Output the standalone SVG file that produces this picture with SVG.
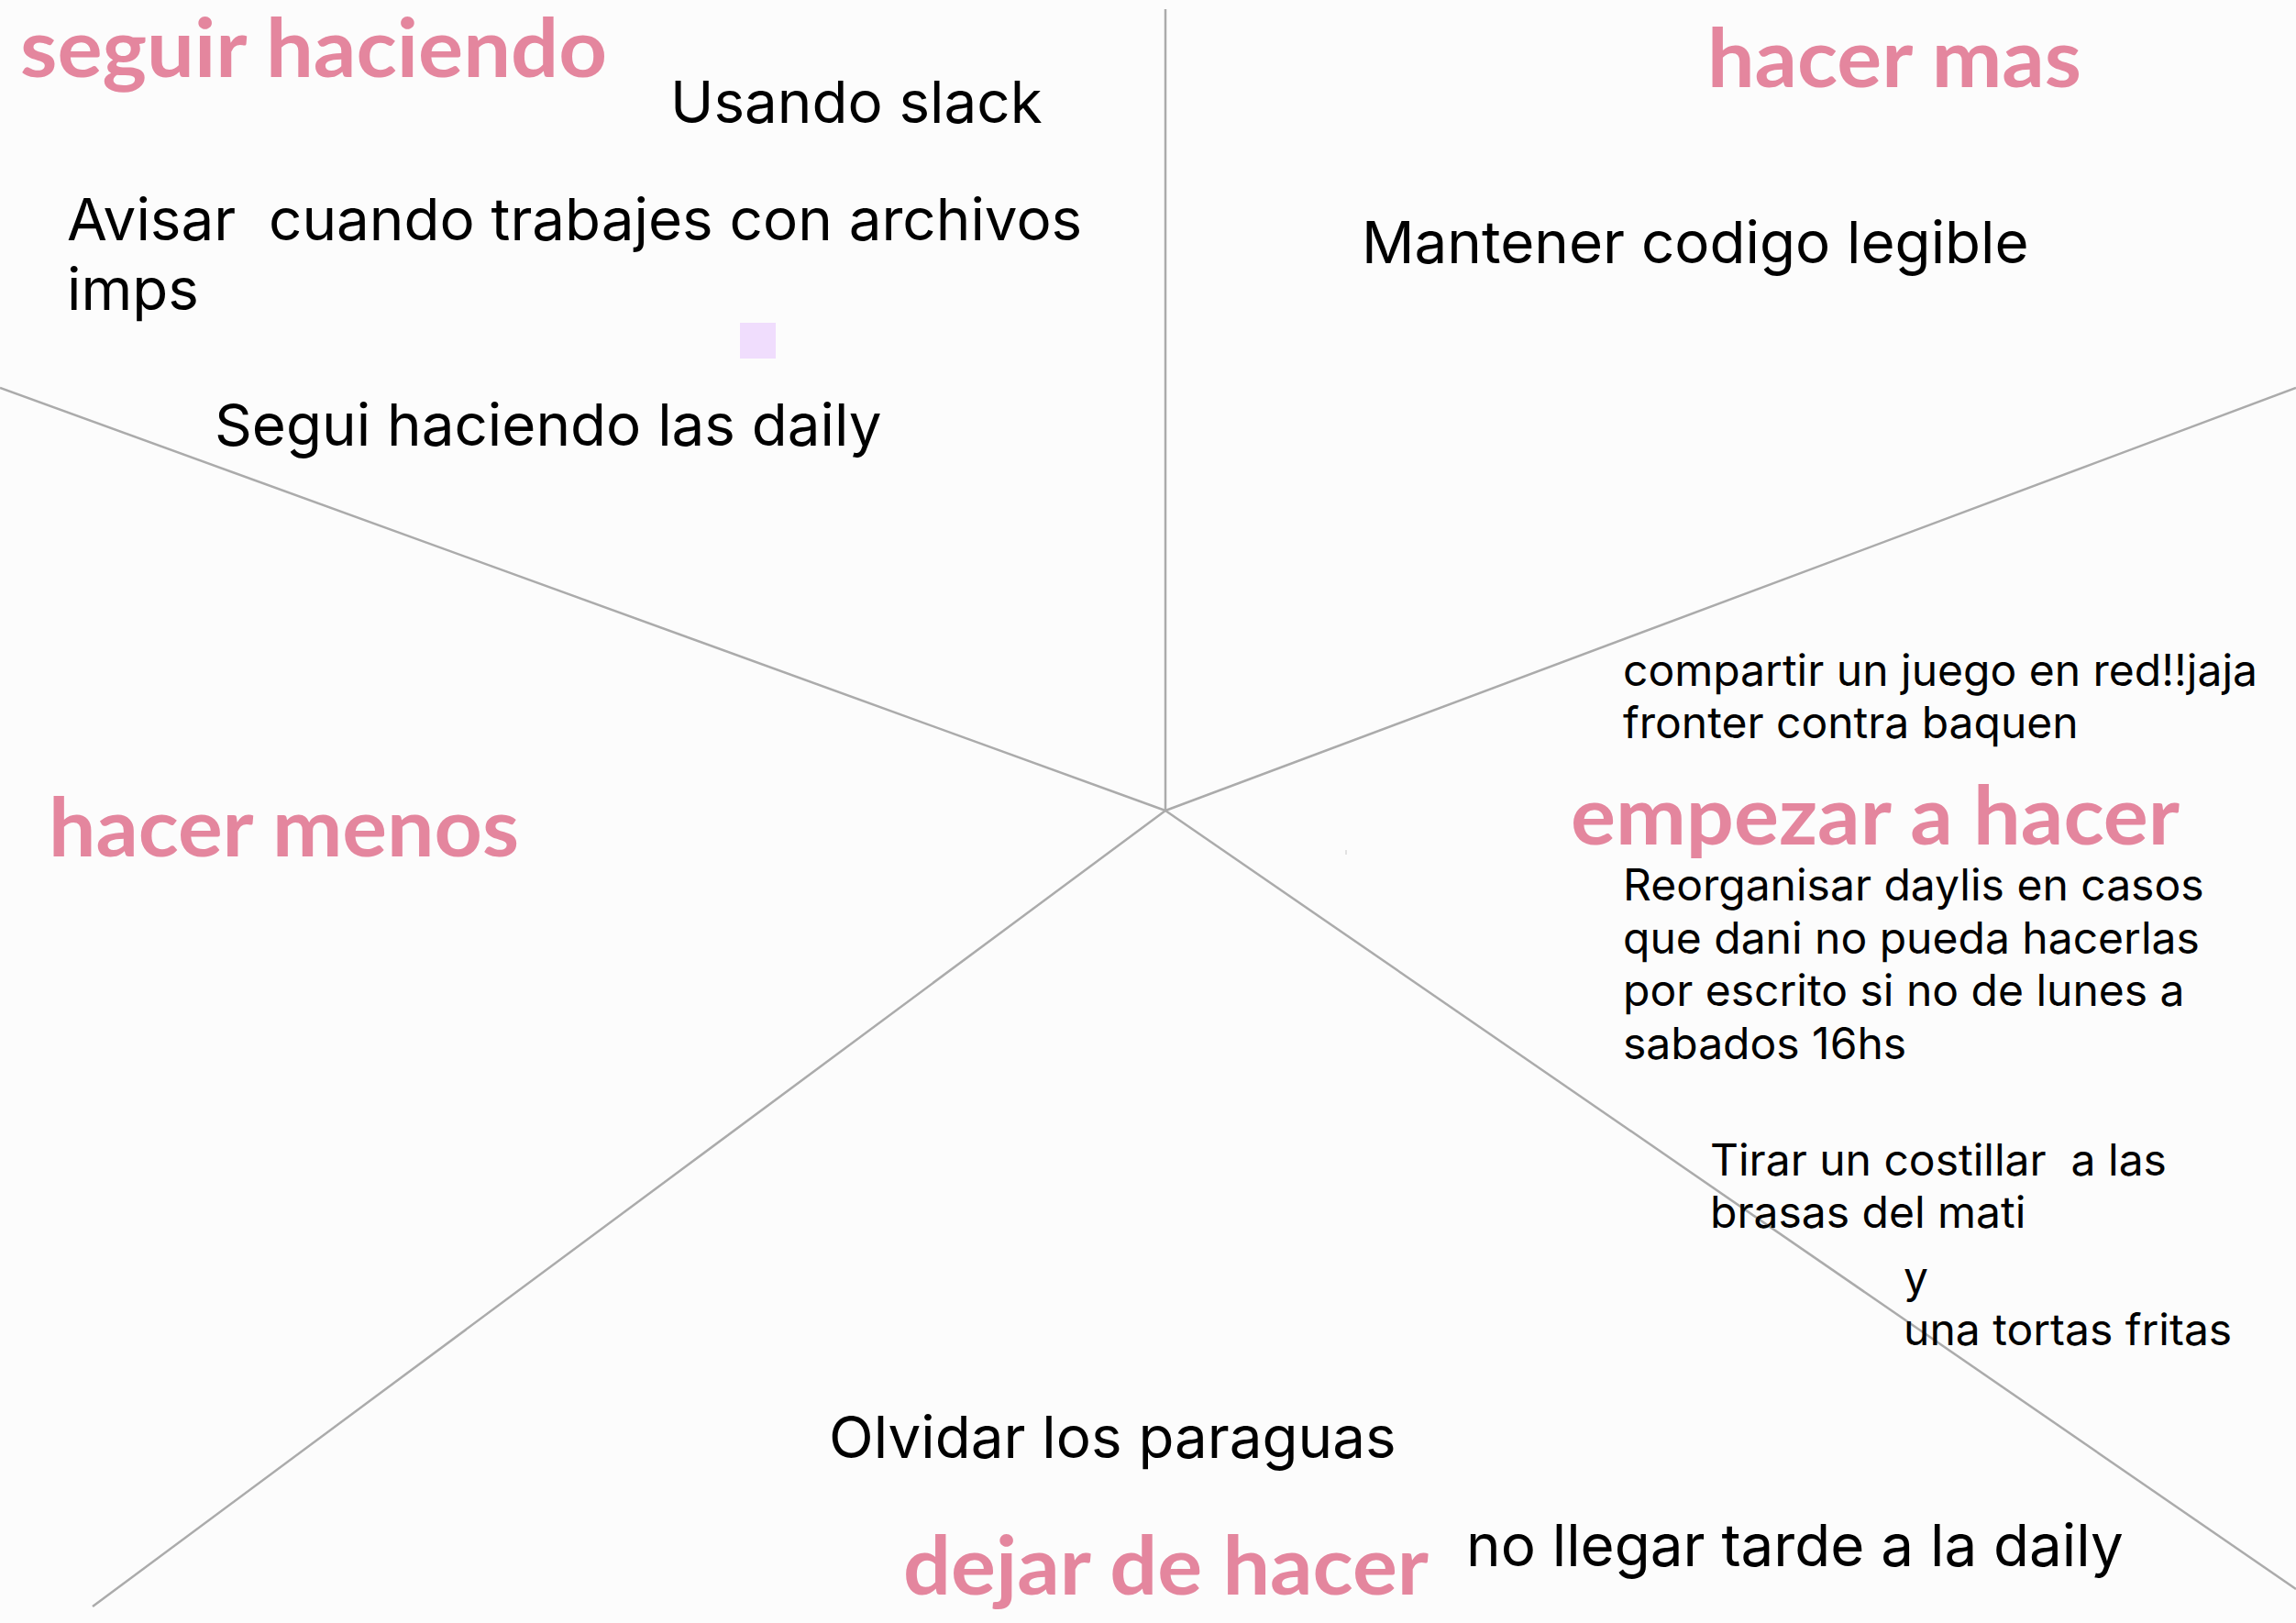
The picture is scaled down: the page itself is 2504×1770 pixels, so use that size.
<svg xmlns="http://www.w3.org/2000/svg" width="2504" height="1770" viewBox="0 0 2504 1770">
  <style>
    .head { font-family: Lato, "Open Sans", "Liberation Sans", sans-serif; font-weight: 700; font-size: 88px; fill: #E4869E; }
    .note { font-family: Inter, "Liberation Sans", sans-serif; font-size: 63.7px; fill: #000000; white-space: pre; }
    .small { font-family: Inter, "Liberation Sans", sans-serif; font-size: 48px; fill: #000000; white-space: pre; }
    .div { stroke: #ABABAB; stroke-width: 2.5; fill: none; }
  </style>
  <rect x="0" y="0" width="2504" height="1770" fill="#FCFCFC"/>

  <g id="connectors">
    <line class="div" x1="1271" y1="10" x2="1271" y2="884"/>
    <line class="div" x1="0" y1="423" x2="1271" y2="884"/>
    <line class="div" x1="2504" y1="423" x2="1271" y2="884"/>
    <line class="div" x1="1271" y1="884" x2="101" y2="1752"/>
    <line class="div" x1="1271" y1="884" x2="2504" y2="1733"/>
  </g>

  <g id="heading-seguir-haciendo">
    <text class="head" x="22" y="84" textLength="640" lengthAdjust="spacingAndGlyphs">seguir haciendo</text>
  </g>
  <g id="heading-hacer-mas">
    <text class="head" x="1862" y="95" textLength="408" lengthAdjust="spacingAndGlyphs">hacer mas</text>
  </g>
  <g id="heading-hacer-menos">
    <text class="head" x="53" y="934" textLength="513" lengthAdjust="spacingAndGlyphs">hacer menos</text>
  </g>
  <g id="heading-empezar-a-hacer">
    <text class="head" x="1713" y="921" textLength="664" lengthAdjust="spacingAndGlyphs">empezar a hacer</text>
  </g>
  <g id="heading-dejar-de-hacer">
    <text class="head" x="985" y="1739" textLength="573" lengthAdjust="spacingAndGlyphs">dejar de hacer</text>
  </g>

  <g id="note-usando-slack">
    <text class="note" x="731" y="134">Usando slack</text>
  </g>
  <g id="note-avisar">
    <text class="note" x="73" y="262" xml:space="preserve">Avisar  cuando trabajes con archivos</text>
    <text class="note" x="73" y="338">imps</text>
  </g>
  <g id="marker-square">
    <rect x="807" y="352" width="39" height="39" fill="#F0DDFD"/>
  </g>
  <g id="note-segui-daily">
    <text class="note" x="234" y="486">Segui haciendo las daily</text>
  </g>
  <g id="note-mantener">
    <text class="note" x="1485" y="287">Mantener codigo legible</text>
  </g>
  <g id="note-compartir">
    <text class="small" x="1770" y="748">compartir un juego en red!!jaja</text>
    <text class="small" x="1770" y="805">fronter contra baquen</text>
  </g>
  <g id="speck">
    <rect x="1467" y="927" width="2" height="5" fill="#E2E2E2"/>
  </g>
  <g id="note-reorganisar">
    <text class="small" x="1770" y="982">Reorganisar daylis en casos</text>
    <text class="small" x="1770" y="1040">que dani no pueda hacerlas</text>
    <text class="small" x="1770" y="1097">por escrito si no de lunes a</text>
    <text class="small" x="1770" y="1155">sabados 16hs</text>
  </g>
  <g id="note-costillar">
    <text class="small" x="1865" y="1282" xml:space="preserve">Tirar un costillar  a las</text>
    <text class="small" x="1865" y="1339">brasas del mati</text>
    <text class="small" x="2076" y="1410">y</text>
    <text class="small" x="2076" y="1467">una tortas fritas</text>
  </g>
  <g id="note-olvidar">
    <text class="note" x="904" y="1590">Olvidar los paraguas</text>
  </g>
  <g id="note-no-llegar">
    <text class="note" x="1599" y="1708">no llegar tarde a la daily</text>
  </g>
</svg>
